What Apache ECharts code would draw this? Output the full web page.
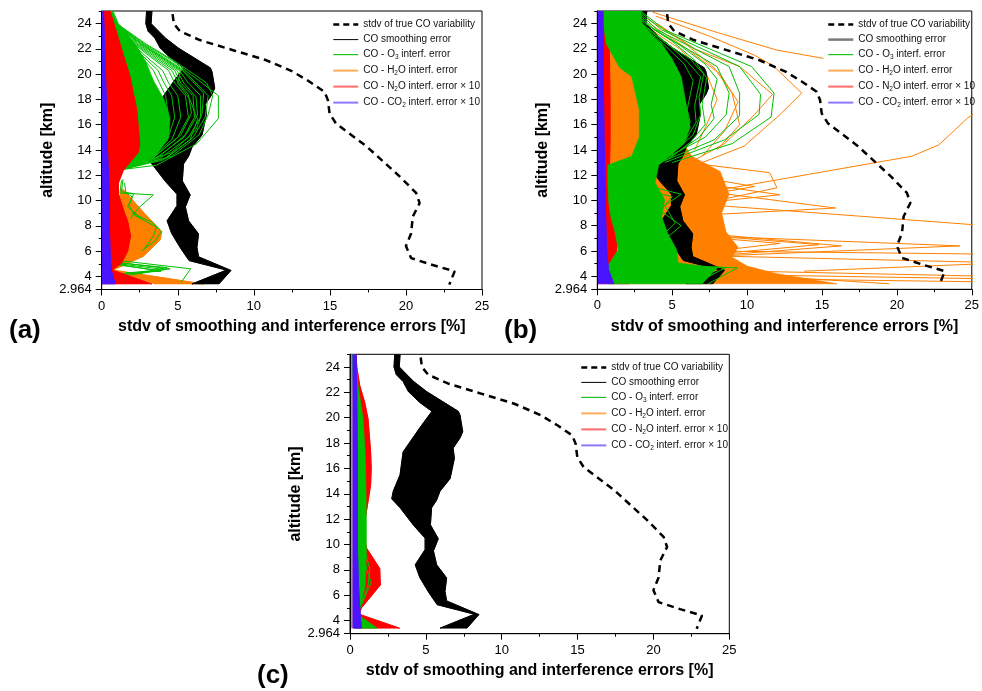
<!DOCTYPE html>
<html>
<head>
<meta charset="utf-8">
<script src="https://cdn.jsdelivr.net/npm/echarts@6/dist/echarts.min.js"></script>
<style>html,body{margin:0;padding:0;background:#fff}#chart{width:982px;height:691px}</style>
</head>
<body>
<div id="chart"></div>
<script>
// ---------------- tick values ----------------
const yLabelValues = [2.964, 4, 6, 8, 10, 12, 14, 16, 18, 20, 22, 24];
const yMajorTicks = [2.964, 4, 6, 8, 10, 12, 14, 16, 18, 20, 22, 24];
const yMinorTicks = [3, 5, 7, 9, 11, 13, 15, 17, 19, 21, 23, 25];
const xRange = [0, 25];

// ---------------- series names ----------------
const N_TRUE = 'stdv of true CO variability';
const N_SM = 'CO smoothing error';
const N_O3 = 'CO - O3 interf. error';
const N_H2O = 'CO - H2O interf. error';
const N_N2O = 'CO - N2O interf. error × 10';
const N_CO2 = 'CO - CO2 interf. error × 10';
const legendLabels = {};
legendLabels[N_TRUE] = '{t|stdv of true CO variability}';
legendLabels[N_SM] = '{t|CO smoothing error}';
legendLabels[N_O3] = '{t|CO - O}{s|3}{t| interf. error}';
legendLabels[N_H2O] = '{t|CO - H}{s|2}{t|O interf. error}';
legendLabels[N_N2O] = '{t|CO - N}{s|2}{t|O interf. error × 10}';
legendLabels[N_CO2] = '{t|CO - CO}{s|2}{t| interf. error × 10}';

// ---------------- data: [error %, altitude km] ----------------
const trueVar = [[4.66,24.75],[4.74,24.0],[5.14,23.4],[6.45,22.7],[8.64,21.9],[10.83,21.1],[12.57,20.2],[13.67,19.4],[14.65,18.6],[14.87,17.95],[14.98,16.9],[15.4,16.1],[17.4,14.3],[19.6,11.9],[20.67,10.6],[20.9,9.8],[20.45,8.73],[20.34,7.4],[20.0,6.4],[20.34,5.45],[21.76,4.9],[23.2,4.4],[22.85,3.35]];
const smoothLeft = [[2.95,25],[2.9,24],[3.05,23.4],[3.5,22.85],[3.85,22.06],[4.6,21.2],[5.4,20.5],[4.6,19.2],[3.5,17.3],[3.3,15.5],[2.85,14.2],[2.75,13.6],[3.3,12.9],[4.2,11.5],[4.95,10.5],[4.95,9.6],[4.3,8.4],[4.6,7.4],[5.15,6.3],[5.6,5.5],[5.75,5.25],[8.2,4.5],[5.93,3.4]];
const smoothRight = [[3.3,25],[3.25,24],[3.74,23.4],[4.2,22.85],[5.05,22.06],[7.14,20.5],[7.25,20.2],[7.43,18.9],[7.25,18.4],[6.8,17.6],[6.88,16.8],[6.6,15.2],[5.93,14.2],[5.71,13.5],[5.38,12.9],[5.3,11.55],[5.82,10.45],[5.5,9.5],[5.71,8.4],[6.37,7.36],[6.26,6.3],[6.37,5.55],[8.5,4.47],[7.7,3.4]];
const axisEdge = [[0,25],[0,3.4]];

// ---- panel (a) ----
const aCo2Right = [[0.12,25],[0.2,22],[0.3,18],[0.38,14],[0.45,12],[0.5,10],[0.5,8],[0.55,6],[0.62,4.5],[0.9,3.4]];
const aN2oRight = [[0.55,25],[1.2,22.4],[1.86,19.8],[2.3,17.2],[2.5,14.5],[2.4,13.8],[1.42,12.4],[1.1,11.4],[1.1,10.5],[1.5,9.0],[1.7,8.4],[1.9,7.2],[1.7,6.0],[1.3,5.05],[0.68,4.5],[3.3,3.4]];
const aH2oLeft = [[1.3,10.9],[1.1,10.2],[1.7,8.0],[1.9,7.0],[1.6,5.8],[0.66,4.5],[3.5,3.4]];
const aH2oRight = [[1.4,10.9],[2.8,9.0],[3.94,7.55],[3.85,6.9],[2.74,5.6],[0.75,4.5],[6.7,3.4]];
const aO3Left = [[0.45,25],[1.1,22.4],[1.75,19.8],[2.2,17.2],[2.4,14.5],[2.3,13.8],[1.3,12.45]];
const aO3Right = [[0.75,25],[1.1,24],[2.2,22.4],[2.9,21],[3.4,19.5],[4.1,18],[4.5,16.5],[4.4,15],[3.6,13.6],[1.4,12.45]];
const aO3Lines = [
  [[0.6,25],[1.0,24],[2.8,22.4],[4.6,21.1],[5.5,20.3],[6.6,19.3],[7.67,18.3],[7.67,16.5],[6.25,14.5],[3.6,12.8],[1.3,12.45]],
  [[0.6,25],[1.0,24],[2.9,22.4],[4.7,21.1],[5.7,20.3],[6.9,19.3],[7.3,18.3],[7.0,16.8],[6.4,15.2],[4.6,13.5],[1.3,12.45]],
  [[0.55,25],[0.95,24],[2.7,22.4],[4.4,21.1],[5.4,20.3],[6.2,19.3],[7.0,18.3],[6.8,16.6],[6.0,15.0],[4.3,13.4],[1.3,12.45]],
  [[0.55,25],[0.95,24],[2.6,22.4],[4.3,21.1],[5.3,20.3],[6.0,19.4],[6.7,18.5],[6.6,16.9],[6.2,15.6],[4.6,13.8],[1.3,12.45]],
  [[0.55,25],[0.9,24],[2.5,22.4],[4.1,21.1],[5.1,20.3],[5.7,19.3],[6.5,18.3],[6.5,16.6],[5.7,15.0],[3.9,13.4],[1.3,12.45]],
  [[0.5,25],[0.9,24],[2.6,22.4],[4.2,21.1],[5.2,20.3],[5.0,19.3],[5.8,18.0],[6.3,16.4],[5.8,14.8],[4.0,13.2],[1.3,12.45]],
  [[0.5,25],[0.9,24],[2.4,22.4],[3.95,21.1],[4.95,20.3],[5.4,19.3],[6.2,18.2],[6.3,16.8],[5.6,15.3],[3.8,13.5],[1.3,12.45]],
  [[0.5,25],[0.85,24],[2.3,22.4],[3.8,21.1],[4.8,20.3],[5.2,19.3],[6.0,18.3],[6.1,16.6],[5.4,15.0],[3.6,13.4],[1.3,12.45]],
  [[0.5,25],[0.85,24],[2.2,22.4],[3.65,21.1],[4.6,20.3],[5.0,19.4],[5.7,18.4],[5.9,16.9],[5.2,15.2],[3.5,13.5],[1.3,12.45]],
  [[0.5,25],[0.8,24],[2.1,22.4],[3.5,21.1],[4.4,20.3],[4.8,19.3],[5.5,18.3],[5.7,16.6],[5.0,15.0],[3.3,13.3],[1.3,12.45]],
  [[0.45,25],[0.8,24],[2.0,22.4],[3.2,21.1],[4.0,20.3],[4.4,19.3],[5.0,18.3],[5.2,16.6],[4.6,14.8],[3.1,13.2],[1.3,12.45]],
  [[0.45,25],[0.75,24],[1.9,22.4],[3.0,21.1],[3.7,20.3],[4.1,19.3],[4.6,18.3],[4.8,16.6],[4.3,14.7],[2.9,13.1],[1.3,12.45]],
  [[0.4,25],[0.75,24],[1.8,22.4],[2.8,21.1],[3.4,20.3],[3.8,19.3],[4.2,18.3],[4.4,16.6],[4.0,14.5],[2.8,13.0],[1.3,12.45]],
  [[1.3,11.6],[1.2,10.6],[3.4,10.45],[2.4,9.4],[1.9,8.6]],
  [[1.4,11.7],[1.3,10.7],[2.1,10.55],[1.8,9.6],[2.2,8.8]],
  [[1.5,11.4],[1.6,10.6],[2.0,10.3],[1.7,9.5],[2.6,8.6]],
  [[2.0,9.0],[3.3,8.3],[3.94,7.55],[3.5,6.8],[2.6,6.0]],
  [[2.2,8.8],[3.6,7.9],[3.4,7.2],[2.8,6.2]],
  [[0.8,5.3],[5.85,4.6],[5.2,3.5]],
  [[0.8,5.15],[4.5,4.6],[1.8,4.1]],
  [[0.8,5.1],[4.3,4.7],[2.3,4.2]],
  [[0.8,5.05],[4.1,4.55],[1.5,4.15]],
  [[0.8,5.0],[3.9,4.4],[1.6,4.3]],
  [[0.8,4.95],[3.6,4.5],[1.3,4.2]]
];

// ---- panel (b) ----
const bCo2Right = [[0.38,25],[0.4,20],[0.45,15],[0.5,12],[0.55,9],[0.62,6],[0.75,4.5],[1.1,3.4]];
const bN2oRight = [[0.75,25],[0.8,22],[0.85,18],[0.85,15],[0.8,12],[0.75,10],[0.85,9],[1.2,8],[1.35,7],[1.3,6],[0.9,5.1],[0.45,4.5],[2.1,3.4]];
const bH2oLeft = [[0.7,25],[0.7,22],[0.75,18],[0.75,15],[0.8,13],[1.6,12],[1.7,10],[1.8,8],[1.6,6],[0.7,4.5],[1.0,3.4]];
const bH2oRight = [[2.5,25],[3.5,23],[4.5,21],[5.0,19],[5.2,17],[5.5,15],[6.3,13.5],[8.2,12.3],[8.8,10.5],[8.3,9],[8.6,7.5],[9.4,6.3],[9.0,5.5],[10.0,4.8],[12.0,4.2],[16.0,3.4]];
const bH2oLines = [
  [[3.7,24.9],[8.0,23.3],[12.0,21.9],[15.1,21.25]],
  [[3.9,24.6],[7.5,23.0],[10.5,21.5],[11.8,20.6],[13.65,18.5],[12.2,16.8],[9.8,14.3],[7.0,13.0]],
  [[4.0,24.0],[6.5,22.0],[9.5,20.6],[11.7,18.4],[10.5,16.8],[8.5,14.5],[6.5,13.2]],
  [[26,17.6],[24.7,16.5],[22.8,14.4],[21.0,13.5],[8.5,10.9],[6.0,10.0]],
  [[8.0,10.6],[15.9,9.4],[8.0,8.9]],
  [[8.0,9.6],[26,8.0]],
  [[7.0,7.4],[16.3,6.4],[7.5,5.6]],
  [[7.0,7.2],[24.2,6.4],[8.0,5.6]],
  [[6.5,7.3],[14.8,6.5],[6.5,5.6]],
  [[6.0,7.2],[12.2,6.6],[6.5,5.8]],
  [[7.0,6.0],[26,5.75]],
  [[8.0,5.6],[26,5.1]],
  [[13.8,4.4],[26,5.0]],
  [[6.0,4.5],[26,4.0]],
  [[5.0,4.2],[26,3.8]],
  [[4.0,3.9],[26,3.55]],
  [[6.0,4.4],[19.5,3.4]],
  [[6.0,11.5],[12.2,10.45],[7.0,9.8]],
  [[6.0,12.0],[10.5,11.1],[6.5,10.3]],
  [[6.0,13.0],[11.5,12.2],[12.0,11.0],[8.0,10.0]],
  [[3.0,24.0],[5.5,22.0],[7.3,20.0],[8.0,18.0],[7.3,16.0],[6.5,14.0]],
  [[3.5,24.0],[6.0,22.0],[8.2,20.0],[9.4,17.8],[8.5,15.5],[7.0,13.5]],
  [[3.2,24.5],[5.8,22.5],[7.8,20.5],[9.0,18.5],[9.5,16.0],[8.0,14.0]]
];
const bO3Left = [[0.3,25],[0.4,24],[0.6,22.4],[1.5,20.5],[2.3,19.8],[2.8,17.2],[2.8,15],[2.3,13.5],[0.7,12.8],[0.7,11.4],[0.75,10],[0.9,8.7],[1.2,7.4],[1.4,6.1],[0.8,5.0],[0.5,4.5],[0.7,3.4]];
const bO3Right = [[2.9,25],[3.0,24],[3.8,22.9],[4.3,22.4],[5.0,21.2],[5.6,19.8],[6.0,17.2],[6.2,15.8],[5.8,14.5],[4.8,13.5],[4.1,12.8],[3.86,11.4],[4.5,10.05],[4.3,8.7],[4.7,7.4],[5.3,6.1],[5.4,5.05],[8.0,4.66],[7.0,3.4]];
const bO3Lines = [
  [[2.9,25],[4.5,23.5],[7.5,22],[10.3,20.6],[11.8,18.5],[11.6,16.6],[9.0,14.5],[5.0,13.0]],
  [[2.8,25],[4.3,23.5],[7.0,22],[9.5,20.6],[10.9,18.4],[10.8,16.8],[8.5,14.8],[4.5,13.0]],
  [[2.7,25],[4.0,23.5],[6.5,22],[8.8,20.6],[9.5,18.5],[9.5,16.7],[7.8,14.8],[4.2,13.0]],
  [[2.6,25],[3.8,23.5],[6.0,22],[8.0,20.6],[8.8,18.5],[8.6,16.8],[7.2,15.0],[4.0,13.0]],
  [[2.4,25],[3.5,23.8],[5.5,22.3],[7.2,20.8],[8.0,19.6],[7.6,17.6],[7.8,16.5],[6.8,15.0],[4.6,13.2]],
  [[2.2,25],[3.2,24],[5.0,22.6],[6.5,21.1],[7.3,19.7],[7.0,17.6],[7.2,16.0],[6.2,14.6],[4.8,13.3]],
  [[2.0,25],[3.0,24],[4.6,22.5],[6.0,21.0],[6.9,19.8],[6.5,17.5],[6.6,16.2],[5.9,14.8],[4.5,13.2]],
  [[1.8,25],[2.8,24],[4.4,22.4],[5.8,20.8],[6.4,19.5],[6.0,17.2],[6.2,16.2],[5.6,14.9],[4.2,13.1]],
  [[1.9,25],[2.9,24],[4.5,22.5],[6.2,21.2],[7.1,20.0],[6.8,18.2],[6.9,16.8],[6.4,15.2],[4.6,13.3]],
  [[0.8,5.0],[9.35,4.66],[7.4,3.4]],
  [[0.8,4.95],[8.6,4.7],[6.5,3.4]],
  [[2.5,11.4],[5.6,10.5],[4.5,9.6],[5.2,8.2],[4.5,7.4],[3.0,6.5]],
  [[2.5,11.0],[5.0,10.3],[4.2,9.2],[5.6,8.0],[4.9,7.3],[3.0,6.3]]
];

// ---- panel (c) ----
const cH2oLine = [[0.1,25],[0.1,3.4]];
const cCo2Left = [[0.18,25],[0.18,3.4]];
const cCo2Right = [[0.4,25],[0.45,22],[0.48,16],[0.48,10],[0.55,7],[0.64,5],[0.75,3.4]];
const cN2oLeft = [[0.3,25],[0.3,3.4]];
const cN2oRight = [[0.4,25],[0.45,24],[0.64,22.55],[0.97,21.2],[1.19,19.9],[1.36,17.3],[1.4,16.0],[1.36,14.7],[1.19,13.4],[1.0,12.0],[0.85,11.0],[1.1,9.7],[1.96,8.1],[2.0,6.8],[0.75,5.0],[0.6,4.5],[3.27,3.4]];
const cO3Left = [[0.15,25],[0.2,22.55],[0.26,19.9],[0.3,17.3],[0.35,14.7],[0.35,12.05],[0.4,9.4],[0.4,6.8],[0.35,5.2],[0.3,3.4]];
const cO3Right = [[0.35,25],[0.53,22.55],[0.86,19.9],[1.0,17.3],[1.05,14.7],[1.08,12.05],[1.08,9.4],[1.0,6.8],[0.75,5.2],[0.5,4.5],[1.8,3.4]];
const cO3Lines = [
  [[1.0,9.4],[1.3,8.1],[1.2,6.8],[0.75,5.2]],
  [[0.9,9.6],[1.1,8.0],[1.4,7.0],[0.7,5.1]]
];

// ---------------- styles ----------------
const FONT = '"Liberation Sans", Arial, sans-serif';
const COL = {black:'#000000', green:'#00c000', orange:'#ff8000', red:'#ff0000', blue:'#4a14ff'};
const Z = {h2o:2, sm:3, o3:4, n2o:5, co2:6, tv:7};

const series = [];
function addBand(g, left, right, color, z) {
  const pts = left.concat(right.slice().reverse());
  series.push({
    type: 'custom', xAxisIndex: g, yAxisIndex: g, z: z, silent: true, clip: true, animation: false,
    data: pts,
    renderItem: function (params, api) {
      if (params.dataIndex !== 0) return null;
      const poly = pts.map(function (p) { return api.coord(p); });
      return {type: 'polygon', shape: {points: poly}, style: {fill: color, stroke: color, lineWidth: 0.6}};
    }
  });
}
function addLine(g, pts, color, name, width, z, dash) {
  series.push({
    type: 'line', name: name, xAxisIndex: g, yAxisIndex: g, z: z, data: pts,
    symbol: 'none', showSymbol: false, silent: true, animation: false, clip: true,
    lineStyle: {color: color, width: width, type: dash ? [7, 5] : 'solid'},
    itemStyle: {color: color}, emphasis: {disabled: true}
  });
}
function addSmoothing(g) {
  addBand(g, smoothLeft, smoothRight, COL.black, Z.sm);
  addLine(g, smoothLeft, COL.black, N_SM, 1, Z.sm);
  addLine(g, smoothRight, COL.black, N_SM, 1, Z.sm);
}

// panel a (grid 0)
addSmoothing(0);
addBand(0, aH2oLeft, aH2oRight, COL.orange, Z.h2o);
addLine(0, aH2oRight, COL.orange, N_H2O, 1, Z.h2o);
addBand(0, aO3Left, aO3Right, COL.green, Z.o3);
aO3Lines.forEach(function (l) { addLine(0, l, COL.green, N_O3, 1, Z.o3); });
addBand(0, axisEdge, aN2oRight, COL.red, Z.n2o);
addLine(0, aN2oRight, COL.red, N_N2O, 1, Z.n2o);
addBand(0, axisEdge, aCo2Right, COL.blue, Z.co2);
addLine(0, aCo2Right, COL.blue, N_CO2, 1, Z.co2);
addLine(0, trueVar, COL.black, N_TRUE, 2.5, Z.tv, true);

// panel b (grid 1)
addSmoothing(1);
addBand(1, bH2oLeft, bH2oRight, COL.orange, Z.h2o);
bH2oLines.forEach(function (l) { addLine(1, l, COL.orange, N_H2O, 1, Z.h2o); });
addBand(1, axisEdge, bN2oRight, COL.red, Z.n2o);
addLine(1, bN2oRight, COL.red, N_N2O, 1, Z.n2o);
addBand(1, bO3Left, bO3Right, COL.green, Z.o3 + 1.5);
bO3Lines.forEach(function (l) { addLine(1, l, COL.green, N_O3, 1, Z.o3 + 1.5); });
addBand(1, axisEdge, bCo2Right, COL.blue, Z.co2 + 1);
addLine(1, bCo2Right, COL.blue, N_CO2, 1, Z.co2 + 1);
addLine(1, trueVar, COL.black, N_TRUE, 2.5, Z.tv + 1, true);

// panel c (grid 2)
addSmoothing(2);
addLine(2, cH2oLine, COL.orange, N_H2O, 2, Z.h2o);
addBand(2, cN2oLeft, cN2oRight, COL.red, Z.n2o);
addLine(2, cN2oRight, COL.red, N_N2O, 1, Z.n2o);
addBand(2, cO3Left, cO3Right, COL.green, Z.o3 + 1.5);
cO3Lines.forEach(function (l) { addLine(2, l, COL.green, N_O3, 1, Z.o3 + 1.5); });
addBand(2, cCo2Left, cCo2Right, COL.blue, Z.co2 + 1);
addLine(2, cCo2Right, COL.blue, N_CO2, 1, Z.co2 + 1);
addLine(2, trueVar, COL.black, N_TRUE, 2.5, Z.tv + 1, true);

// ---------------- layout ----------------
const grids = [
  {left: 101.7, top: 11, width: 380.3, height: 278.5},
  {left: 597.3, top: 11, width: 380, height: 278.3},
  {left: 350, top: 354.3, width: 379.3, height: 279.4}
];
const legendPos = [
  {left: 332, top: 19.6, sm: '#000000', smw: 1},
  {left: 827, top: 19.6, sm: '#7a7a7a', smw: 2.5},
  {left: 580, top: 362.4, sm: '#000000', smw: 1}
];

const xAxes = grids.map(function (g, i) {
  return {
    type: 'value', gridIndex: i, min: xRange[0], max: xRange[1], interval: 5, z: 10,
    axisLine: {show: true, onZero: false, lineStyle: {color: '#000', width: 1}},
    axisTick: {show: true, length: 6, lineStyle: {color: '#000'}},
    minorTick: {show: true, splitNumber: 2, length: 3, lineStyle: {color: '#000'}},
    splitLine: {show: false}, minorSplitLine: {show: false},
    axisLabel: {color: '#000', fontSize: 13, fontFamily: FONT, margin: 10},
    name: 'stdv of smoothing and interference errors [%]', nameLocation: 'middle', nameGap: 29,
    nameTextStyle: {fontFamily: FONT, fontSize: 16, fontWeight: 'bold', color: '#000'}
  };
});
const yAxes = grids.map(function (g, i) {
  return {
    type: 'value', gridIndex: i, min: 2.964, max: 25, z: 10,
    axisLine: {show: true, onZero: false, lineStyle: {color: '#000', width: 1}},
    axisTick: {show: true, length: 6, customValues: yMajorTicks, lineStyle: {color: '#000'}},
    axisLabel: {color: '#000', fontSize: 13, fontFamily: FONT, margin: 10, customValues: yLabelValues},
    splitLine: {show: false},
    name: 'altitude [km]', nameLocation: 'middle', nameGap: 33,
    nameTextStyle: {fontFamily: FONT, fontSize: 16, fontWeight: 'bold', color: '#000'}
  };
}).concat(grids.map(function (g, i) {
  return {
    type: 'value', gridIndex: i, min: 2.964, max: 25, z: 10, position: 'left',
    axisLine: {show: false}, axisLabel: {show: false}, splitLine: {show: false},
    axisTick: {show: true, length: 3, customValues: yMinorTicks, lineStyle: {color: '#000'}}
  };
}));

const legends = legendPos.map(function (p) {
  return {
    left: p.left, top: p.top, orient: 'vertical', itemWidth: 25, itemHeight: 12, itemGap: 5,
    padding: 0, selectedMode: false, itemStyle: {opacity: 0},
    formatter: function (n) { return legendLabels[n]; },
    textStyle: {
      fontFamily: FONT, fontSize: 10, color: '#111',
      rich: {
        t: {fontFamily: FONT, fontSize: 10, lineHeight: 12, color: '#111'},
        s: {fontFamily: FONT, fontSize: 6.5, lineHeight: 12, verticalAlign: 'bottom', color: '#111'}
      }
    },
    data: [
      {name: N_TRUE, lineStyle: {color: '#000', width: 2.5, type: [6, 4]}},
      {name: N_SM, lineStyle: {color: p.sm, width: p.smw}},
      {name: N_O3, lineStyle: {color: '#1ec41e', width: 1.2}},
      {name: N_H2O, lineStyle: {color: '#ffac5a', width: 2}},
      {name: N_N2O, lineStyle: {color: '#ff6a6a', width: 2}},
      {name: N_CO2, lineStyle: {color: '#8c78ff', width: 2}}
    ]
  };
});

const chart = echarts.init(document.getElementById('chart'), null, {renderer: 'canvas'});
chart.setOption({
  backgroundColor: '#ffffff',
  animation: false,
  grid: grids.map(function (g) {
    return {left: g.left, top: g.top, width: g.width, height: g.height, show: true,
      borderColor: '#000', borderWidth: 1, backgroundColor: 'transparent', containLabel: false};
  }),
  xAxis: xAxes,
  yAxis: yAxes,
  legend: legends,
  graphic: [
    {type: 'text', left: 9, top: 318, style: {text: '(a)', font: 'bold 26px "Liberation Sans", Arial', fill: '#000'}},
    {type: 'text', left: 504, top: 318, style: {text: '(b)', font: 'bold 26px "Liberation Sans", Arial', fill: '#000'}},
    {type: 'text', left: 257, top: 663, style: {text: '(c)', font: 'bold 26px "Liberation Sans", Arial', fill: '#000'}}
  ],
  series: series
});
</script>
</body>
</html>
